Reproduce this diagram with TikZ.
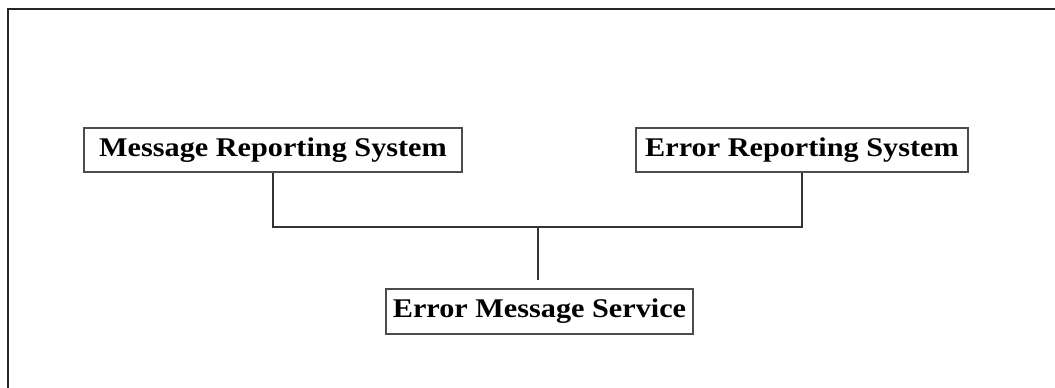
\documentclass[tikz,border=0pt]{standalone}
\usepackage{fontspec}
\setmainfont{Liberation Serif}
\newfontfamily\boxfont[FakeStretch=1.12]{Liberation Serif}
\begin{document}
\begin{tikzpicture}[x=1pt,y=-1pt,
  sysbox/.style={draw=black!70, line width=1.4pt, fill=white, inner sep=0pt,
    minimum height=44pt, font=\boxfont\fontsize{27}{31}\selectfont\bfseries},
  link/.style={draw=black!80, line width=1.1pt}]
\useasboundingbox (0,0) rectangle (1055,388);
% outer frame, open on the right and bottom
\draw[line width=2pt, black!85] (8,388) -- (8,9) -- (1055,9);
\node[sysbox, minimum width=378pt] (msg) at (273,150) {Message Reporting System};
\node[sysbox, minimum width=332pt] (err) at (802,150) {Error Reporting System};
\node[sysbox, minimum width=307pt, minimum height=45pt] (ems) at (539.5,311.5) {Error Message Service};
\coordinate (bus) at (538,227);
\coordinate (stub) at (538,280);
\draw[link] (msg.south) |- (bus) -| (err.south);
\draw[link] (bus) -- (stub);
\end{tikzpicture}
\end{document}
